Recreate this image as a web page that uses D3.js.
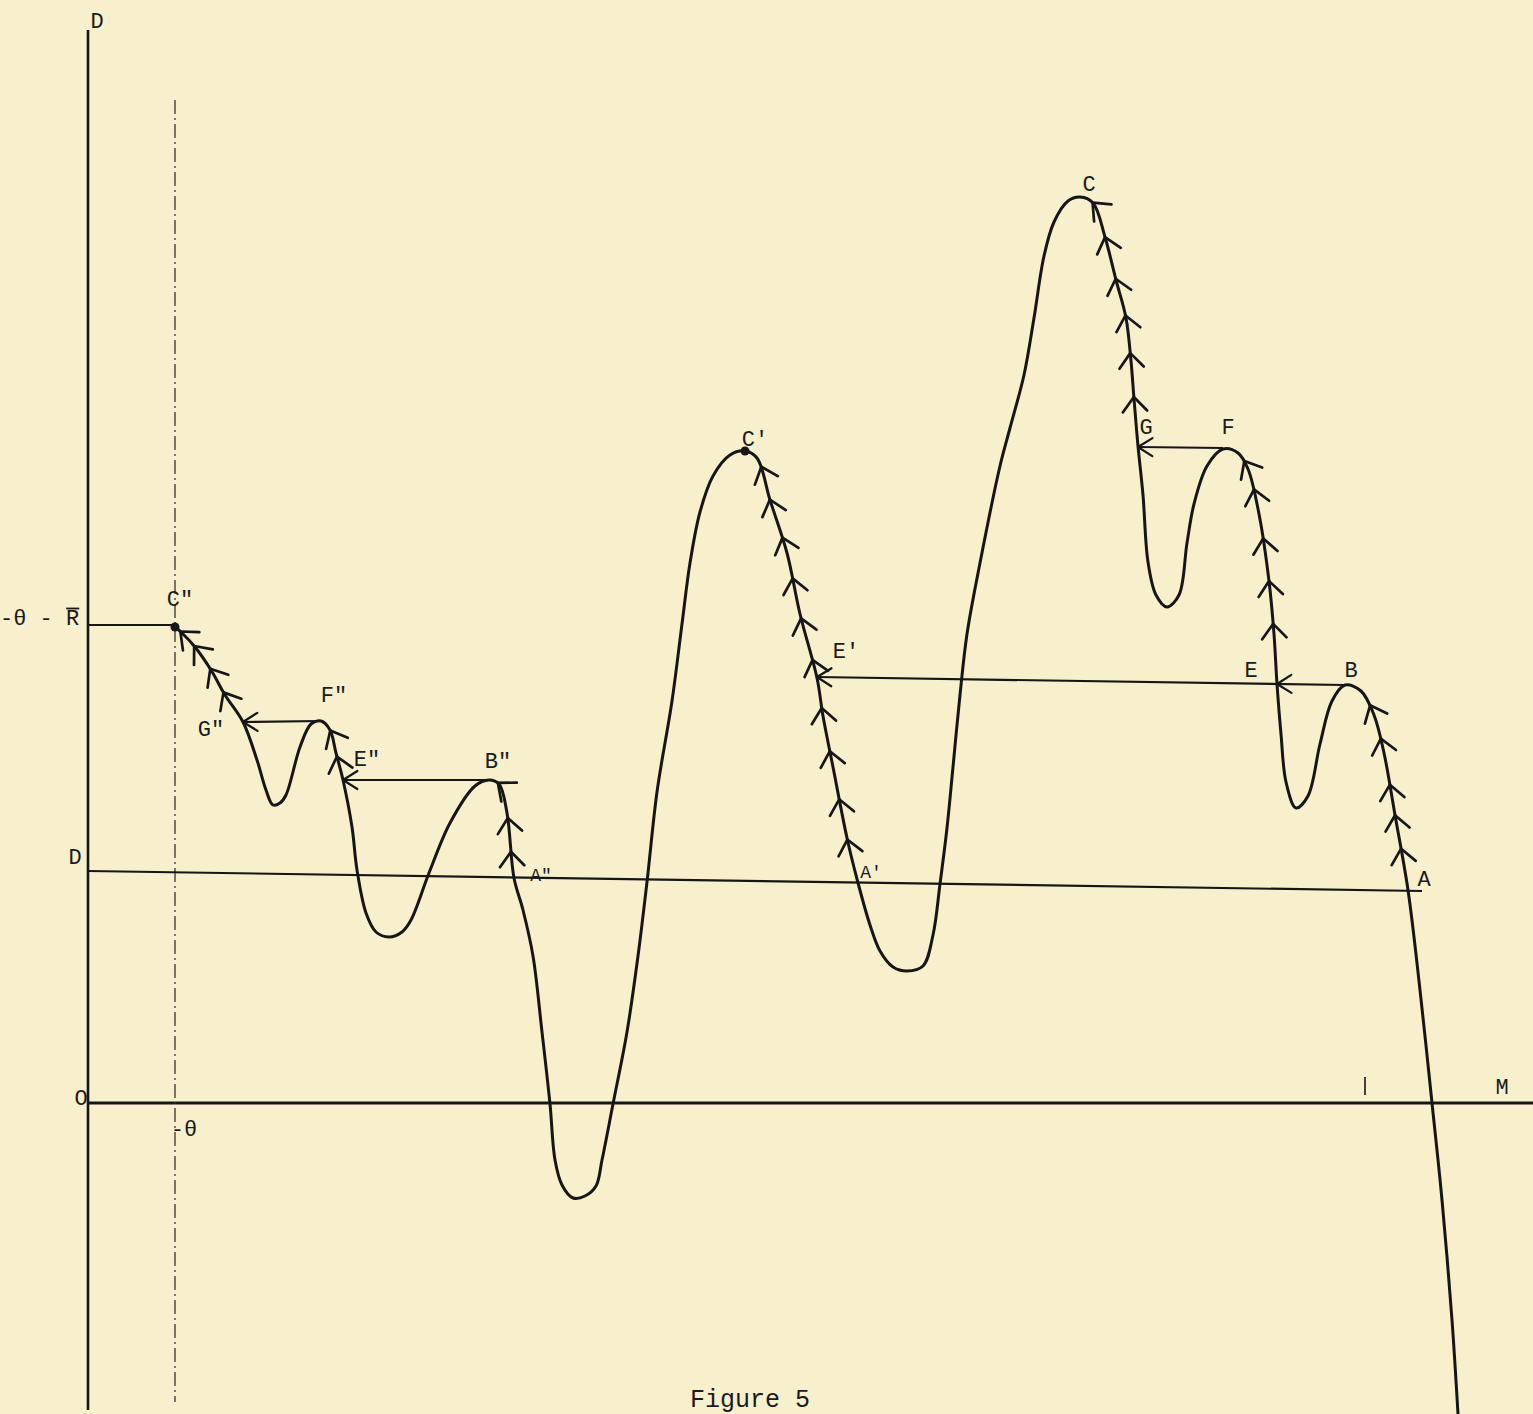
<!DOCTYPE html>
<html>
<head>
<meta charset="utf-8">
<script src="https://cdn.jsdelivr.net/npm/d3@7"></script>
<style>
  html, body { margin: 0; padding: 0; background: #f8efcc; }
  svg { display: block; }
  .lbl { font-family: "Courier New", "Liberation Mono", monospace; fill: #1a1a1a; }
</style>
</head>
<body>
<div id="chart"></div>
<script>
// path of D over M (M, D units; O at origin)
const pathM = [8.7, 9.4, 10.7, 12.3, 13.7, 15.5, 16.9, 17.8, 18.5, 19.2, 19.8, 21.2, 22.3, 23.3, 24.2, 24.8,
  25.5, 26.4, 26.9, 27.8, 28.8, 30.1, 31.4, 32.3, 34.1, 36.2, 38.7, 40.1, 41.1, 41.9, 42.6, 43.5, 44.5,
  45.4, 46.2, 46.7, 47.4, 48.5, 49.7, 50.8, 51.4, 52.5, 53.9, 55.0, 55.9, 56.9, 58.4, 59.4, 60.2, 61.2,
  62.5, 64.2, 65.7, 66.9, 68.2, 69.9, 71.2, 72.9, 73.5, 74.5, 75.9, 76.9, 78.2, 79.2, 80.5, 81.9, 83.5,
  84.5, 85.2, 85.9, 86.5, 87.2, 87.9, 89.2, 91.2, 92.2, 93.6, 94.6, 95.6, 96.6, 98.0, 99.2, 100.5, 101.7,
  102.8, 103.8, 104.3, 104.6, 105.0, 105.5, 106.0, 106.8, 107.9, 109.1, 109.9, 110.6, 111.9, 113.5, 115.0,
  116.0, 117.1, 118.1, 118.6, 118.9, 119.3, 119.8, 120.8, 122.0, 123.2, 124.4, 125.7, 127.3, 128.6, 129.6,
  130.7, 132.0, 133.2, 134.4, 135.4, 136.4, 137.0];
const pathD = [47.6, 47.0, 45.6, 43.3, 40.8, 38.1, 34.3, 31.3, 29.8, 30.0, 30.8, 35.6, 37.9, 38.2, 37.3, 35.0,
  32.3, 27.6, 23.3, 19.0, 17.1, 16.6, 17.1, 18.3, 23.0, 28.0, 31.7, 32.3, 31.9, 29.0, 22.5, 19.3, 14.7,
  7.1, -0.1, -5.7, -8.2, -9.5, -9.3, -8.3, -5.7, -0.1, 7.1, 14.7, 22.1, 31.1, 40.2, 47.9, 54.0, 59.1,
  62.7, 64.8, 65.2, 64.5, 60.3, 55.0, 48.9, 42.5, 38.7, 33.6, 26.5, 22.4, 17.8, 15.2, 13.6, 13.2, 13.7,
  16.8, 21.9, 27.5, 33.6, 40.8, 46.9, 54.0, 63.7, 67.5, 72.8, 78.5, 84.7, 88.1, 90.2, 90.6, 90.0, 86.6,
  82.3, 78.5, 74.2, 70.4, 65.7, 60.8, 54.1, 50.8, 49.6, 50.8, 56.0, 59.9, 63.7, 65.4, 65.0,
  63.4, 58.9, 52.2, 46.9, 41.9, 36.9, 32.1, 29.5, 30.7, 35.9, 40.2, 41.8, 41.2, 38.8, 35.0,
  28.8, 21.3, 11.3, 0.0, -9.7, -21.7, -31.1];

// direction arrows along the path
const arrowM = [9.4, 10.7, 12.3, 13.7, 24.1, 24.8, 40.7, 41.9, 42.4,
  67.4, 68.9, 70.4, 71.4, 72.0, 72.6, 73.2, 73.9, 75.0, 75.9,
  100.2, 101.7, 102.9, 103.8, 104.3, 104.5,
  115.7, 116.5, 117.5, 118.2, 118.6,
  128.3, 129.3, 130.3, 130.8, 131.3];
const arrowD = [47.3, 45.8, 43.5, 41.1, 37.2, 34.6, 31.7, 28.5, 25.1,
  63.7, 60.6, 56.8, 52.7, 48.6, 44.3, 39.5, 35.1, 30.3, 26.3,
  89.8, 86.6, 82.5, 78.8, 75.0, 70.6,
  64.2, 61.3, 56.5, 52.2, 47.9,
  39.8, 36.4, 31.9, 28.8, 25.4];

// horizontal jumps (from -> to), arrowhead at the "to" end
const jumpFromM = [23.3, 40.1, 125.7, 113.5];
const jumpFromD = [38.2, 32.3, 41.8, 65.5];
const jumpToM = [15.5, 25.5, 72.9, 105.0];
const jumpToD = [38.1, 32.3, 42.6, 65.6];
// extra arrowhead at E on the long jump
const midArrowM = [118.9];
const midArrowD = [41.9];

// marked points
const dotM = [8.7, 65.7];
const dotD = [47.6, 65.2];

// reference levels
const thetaM = 8.7;         // -θ
const levelTop = 47.8;      // -θ - R̄
const dBarStart = 23.2, dBarEnd = 21.2, dBarEndM = 133.4;
const tickM = 127.7;

const labelText = ["D", "C\"", "-θ - R", "F\"", "G\"", "E\"", "B\"", "A\"", "D",
  "C'", "E'", "A'", "C", "G", "F", "E", "B", "A", "O", "M", "-θ"];
const labelM = [0.9, 9.2, -8.8, 24.6, 12.3, 27.9, 41.0, 45.3, -1.3,
  66.7, 75.8, 78.3, 100.1, 105.8, 114.0, 116.3, 126.3, 133.6, -0.7, 141.4, 9.6];
const labelD = [108.1, 50.3, 48.4, 40.7, 37.3, 34.3, 34.1, 22.7, 24.5,
  66.3, 45.1, 23.0, 91.8, 67.5, 67.5, 43.2, 43.2, 22.3, 0.4, 1.5, -2.7];
const title = "Figure 5";

const W = 1533, H = 1414;
const x = d3.scaleLinear().domain([-8.8, 144.5]).range([0, W]);
const y = d3.scaleLinear().domain([110.3, -31.1]).range([0, H]);

const svg = d3.select("#chart").append("svg")
  .attr("width", W).attr("height", H);

svg.append("rect").attr("width", W).attr("height", H).attr("fill", "#f8efcc");

const ink = "#161616";

// axes
svg.append("line")
  .attr("x1", x(0)).attr("x2", x(0))
  .attr("y1", y(107.3)).attr("y2", y(-30.7))
  .attr("stroke", ink).attr("stroke-width", 2.6);
svg.append("line")
  .attr("x1", x(0)).attr("x2", x(144.5))
  .attr("y1", y(0)).attr("y2", y(0))
  .attr("stroke", ink).attr("stroke-width", 2.8);
svg.append("line")
  .attr("x1", x(tickM)).attr("x2", x(tickM))
  .attr("y1", y(2.6)).attr("y2", y(0.8))
  .attr("stroke", ink).attr("stroke-width", 1.6);

// -θ dash-dot guide
svg.append("line")
  .attr("x1", x(thetaM)).attr("x2", x(thetaM))
  .attr("y1", y(100.3)).attr("y2", y(-29.9))
  .attr("stroke", "#333").attr("stroke-width", 1.3)
  .attr("stroke-dasharray", "14 4 2 4");

// -θ - R̄ level
svg.append("line")
  .attr("x1", x(0)).attr("x2", x(thetaM))
  .attr("y1", y(levelTop)).attr("y2", y(levelTop))
  .attr("stroke", ink).attr("stroke-width", 2);

// D̄ level (slightly tilted as drawn)
svg.append("line")
  .attr("x1", x(0)).attr("x2", x(dBarEndM))
  .attr("y1", y(dBarStart)).attr("y2", y(dBarEnd))
  .attr("stroke", ink).attr("stroke-width", 2.2);

// main path
const pts = pathM.map((m, i) => [x(m), y(pathD[i])]);
const curve = svg.append("path")
  .attr("d", d3.line().curve(d3.curveCatmullRom.alpha(0.5))(pts))
  .attr("fill", "none").attr("stroke", ink)
  .attr("stroke-width", 3).attr("stroke-linejoin", "round").attr("stroke-linecap", "round");

// dense samples of the drawn curve, for arrow directions
const node = curve.node();
const total = node.getTotalLength();
const samples = d3.range(0, total, 1).map(l => node.getPointAtLength(l));

// chevron helper: apex at (px,py), pointing along (dx,dy)
function chevron(px, py, dx, dy, len, spread, w) {
  const n = Math.hypot(dx, dy);
  const ux = -dx / n, uy = -dy / n;
  const a = spread * Math.PI / 180;
  const arm = s => [px + len * (ux * Math.cos(s * a) - uy * Math.sin(s * a)),
                    py + len * (ux * Math.sin(s * a) + uy * Math.cos(s * a))];
  const l = arm(1), r = arm(-1);
  svg.append("path")
    .attr("d", `M${l[0]},${l[1]}L${px},${py}L${r[0]},${r[1]}`)
    .attr("fill", "none").attr("stroke", ink)
    .attr("stroke-width", w).attr("stroke-linecap", "round").attr("stroke-linejoin", "round");
}

// arrows along the path point back toward the peak (start of path)
arrowM.forEach((m, k) => {
  const px = x(m), py = y(arrowD[k]);
  let best = 0, bd = Infinity;
  samples.forEach((p, i) => {
    const dd = Math.hypot(p.x - px, p.y - py);
    if (dd < bd) { bd = dd; best = i; }
  });
  const a = samples[Math.max(0, best - 8)], b = samples[Math.min(samples.length - 1, best + 8)];
  const s = samples[best];
  chevron(s.x, s.y, a.x - b.x, a.y - b.y, 19, 40, 2.7);
});

// horizontal jumps
jumpFromM.forEach((m, i) => {
  const x1 = x(m), y1 = y(jumpFromD[i]), x2 = x(jumpToM[i]), y2 = y(jumpToD[i]);
  svg.append("line")
    .attr("x1", x1).attr("y1", y1).attr("x2", x2).attr("y2", y2)
    .attr("stroke", ink).attr("stroke-width", 2.2);
  chevron(x2, y2, x2 - x1, y2 - y1, 17, 32, 2.2);
});
midArrowM.forEach((m, i) => {
  chevron(x(m), y(midArrowD[i]), -1, 0.01, 17, 32, 2.2);
});

// marked points
dotM.forEach((m, i) => {
  svg.append("circle").attr("cx", x(m)).attr("cy", y(dotD[i])).attr("r", 4.5).attr("fill", ink);
});

// labels
labelText.forEach((t, i) => {
  const small = t === "A\"" || t === "A'";
  const txt = svg.append("text").attr("class", "lbl")
    .attr("x", x(labelM[i])).attr("y", y(labelD[i]))
    .attr("text-anchor", t === "-θ - R" ? "start" : "middle")
    .attr("dominant-baseline", "central")
    .attr("font-size", small ? 18 : 22)
    .text(t);
  if (t === "-θ - R") {
    // overbar on R
    const bb = txt.node().getBBox();
    svg.append("line")
      .attr("x1", bb.x + bb.width - 13).attr("x2", bb.x + bb.width)
      .attr("y1", bb.y + 2).attr("y2", bb.y + 2)
      .attr("stroke", ink).attr("stroke-width", 1.8);
  }
});

svg.append("text").attr("class", "lbl")
  .attr("x", x(66.2)).attr("y", y(-30.4))
  .attr("text-anchor", "middle")
  .attr("font-size", 25)
  .text(title);
</script>
</body>
</html>
